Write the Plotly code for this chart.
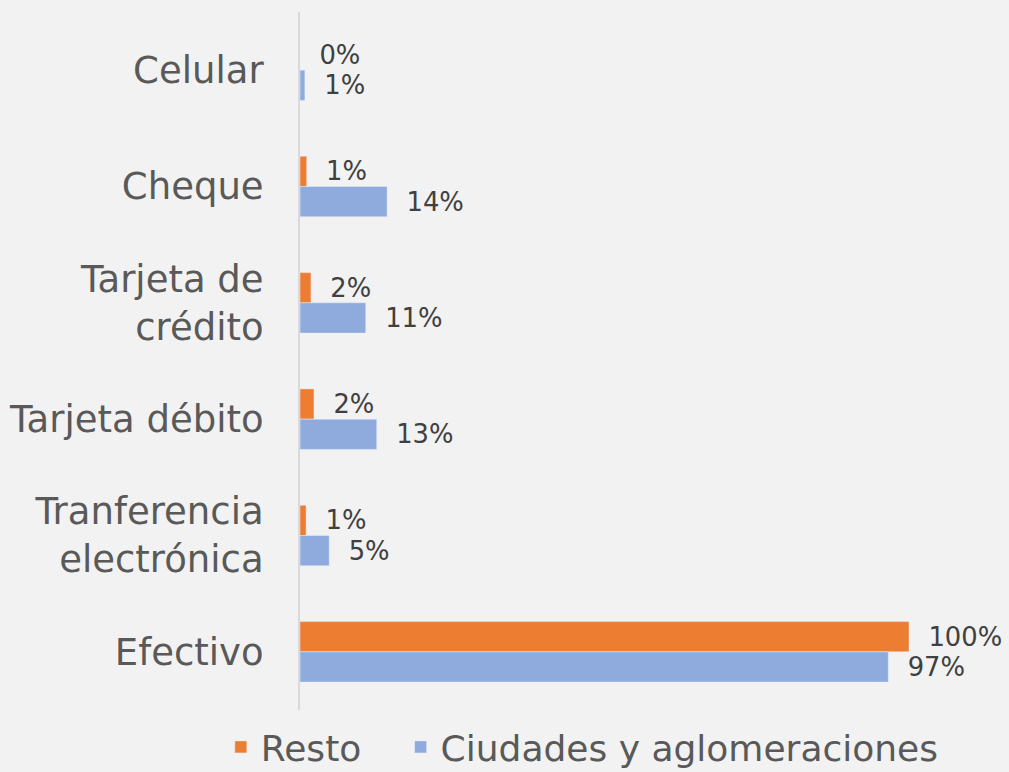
import plotly.graph_objects as go

categories = ["Celular", "Cheque", "Tarjeta de<br>crédito", "Tarjeta débito",
              "Tranferencia<br>electrónica", "Efectivo"]
series_names = ["Resto", "Ciudades y aglomeraciones"]
resto = [0.0, 0.011, 0.018, 0.023, 0.010, 1.0]
ciudades = [0.008, 0.143, 0.108, 0.126, 0.048, 0.966]

FONT = "DejaVu Sans"
PAD = "\u00a0\u00a0"
fig = go.Figure()
fig.add_trace(go.Bar(
    name=series_names[0] + "\u00a0\u00a0\u00a0", y=categories, x=resto, orientation="h",
    marker=dict(color="#ED7D31"),
    texttemplate=PAD + "%{x:.0%}", textposition="outside",
    textfont=dict(size=29, color="#404040", family=FONT),
    cliponaxis=False,
))
fig.add_trace(go.Bar(
    name=series_names[1], y=categories, x=ciudades, orientation="h",
    marker=dict(color="#8FAADC"),
    texttemplate=PAD + "%{x:.0%}", textposition="outside",
    textfont=dict(size=29, color="#404040", family=FONT),
    cliponaxis=False,
))

fig.update_layout(
    width=1009, height=772,
    paper_bgcolor="#F2F2F2", plot_bgcolor="#F2F2F2",
    barmode="group", bargap=0.48, bargroupgap=0,
    margin=dict(l=300, r=100, t=12, b=62, autoexpand=False),
    font=dict(family=FONT, color="#595959"),
    showlegend=True,
    legend=dict(orientation="h", x=-0.13, xanchor="left",
                y=-0.01, yanchor="top",
                font=dict(size=36, color="#595959", family=FONT),
                traceorder="normal", itemwidth=30),
    uniformtext=dict(mode=False),
)
fig.update_xaxes(range=[0, 1.0], visible=False, showgrid=False, zeroline=False)
fig.update_yaxes(autorange="reversed", showgrid=False, zeroline=False,
                 showline=True, linecolor="#D9D9D9", linewidth=2,
                 ticks="", ticklabelstandoff=27,
                 tickfont=dict(size=37, color="#595959", family=FONT))

fig.write_html("out.html", config={"displayModeBar": False},
               post_script="document.body.style.margin='0';")
